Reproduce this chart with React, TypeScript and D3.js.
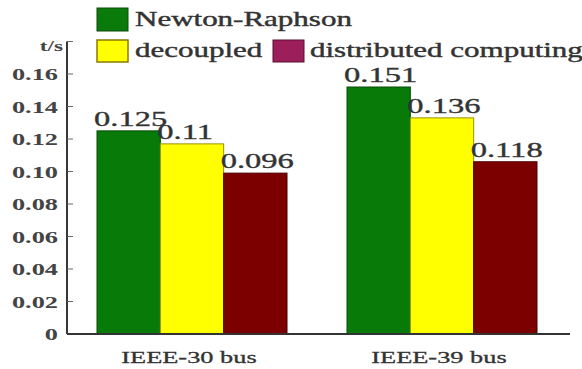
import React, { useLayoutEffect } from "react";
import * as d3 from "d3";

const categories = ["IEEE-30 bus", "IEEE-39 bus"];
const seriesNames = ["Newton-Raphson", "decoupled", "distributed computing"];
const newtonRaphson = [0.125, 0.152];
const decoupled = [0.117, 0.133];
const distributed = [0.099, 0.106];
const newtonLabels = ["0.125", "0.151"];
const decoupledLabels = ["0.11", "0.136"];
const distributedLabels = ["0.096", "0.118"];
const yTicks = [0, 0.02, 0.04, 0.06, 0.08, 0.1, 0.12, 0.14, 0.16];
const yTickLabels = ["0", "0.02", "0.04", "0.06", "0.08", "0.10", "0.12", "0.14", "0.16"];
const yUnit = "t/s";

const barColors = ["#077a07", "#ffff00", "#7c0000"];
const barStrokes = ["#0a4a0a", "#9a9000", "#4a0000"];
const legendColors = ["#0a7a0a", "#ffff00", "#9c1f5c"];
const legendStrokes = ["#0a4a0a", "#8a7a00", "#5a1030"];

const W = 582;
const H = 369;
const SX = 1.55;
const FONT = "'Liberation Serif', 'Times New Roman', serif";

function SText({ x, y, size, anchor = "start", weight = "normal", fill = "#2a2a2a", thick = 0, children }: any) {
  return (
    <g transform={`translate(${x},${y}) scale(${SX},1)`}>
      <text
        textAnchor={anchor}
        fontFamily={FONT}
        fontSize={size}
        fontWeight={weight}
        fill={fill}
        stroke={thick ? fill : "none"}
        strokeWidth={thick}
      >
        {children}
      </text>
    </g>
  );
}

export default function App() {
  useLayoutEffect(() => {
    document.body.style.margin = "0";
  }, []);

  const series = [newtonRaphson, decoupled, distributed];
  const labels = [newtonLabels, decoupledLabels, distributedLabels];

  const y = d3.scaleLinear().domain([0, 0.16]).range([334, 74]);
  const x0 = d3.scaleBand<string>().domain(categories).range([97, 537]).paddingInner(0.24).paddingOuter(0);
  const x1 = d3.scaleBand<string>().domain(seriesNames).range([0, x0.bandwidth()]).padding(0);

  const axisX = 67;
  const axisTop = y(0.18);
  const base = y(0);

  return (
    <svg width={W} height={H} style={{ display: "block" }}>
      <rect width={W} height={H} fill="#ffffff" />
      {/* bars */}
      {categories.map((c, ci) =>
        seriesNames.map((s, si) => {
          const v = series[si][ci];
          const bx = (x0(c) as number) + (x1(s) as number);
          return (
            <rect
              key={c + s}
              x={bx}
              y={y(v)}
              width={x1.bandwidth()}
              height={base - y(v)}
              fill={barColors[si]}
              stroke={barStrokes[si]}
              strokeWidth={1}
            />
          );
        })
      )}
      {/* value labels */}
      {categories.map((c, ci) =>
        seriesNames.map((s, si) => {
          const v = series[si][ci];
          const bx = (x0(c) as number) + (x1(s) as number);
          return (
            <SText key={"l" + c + s} x={bx - 3} y={y(v) - 5} size={21} fill="#333" thick={0.35}>
              {labels[si][ci]}
            </SText>
          );
        })
      )}
      {/* axes */}
      <line x1={axisX} x2={axisX} y1={axisTop} y2={base} stroke="#222" strokeWidth={1.8} />
      <line x1={axisX} x2={570} y1={base} y2={base} stroke="#333" strokeWidth={1.8} />
      {yTicks.map((t, i) => (
        <g key={"t" + i}>
          {t > 0 && <line x1={axisX} x2={axisX + 6} y1={y(t)} y2={y(t)} stroke="#666" strokeWidth={1} />}
          <SText x={58} y={y(t) + 6} size={17} anchor="end" weight="bold" fill="#444">
            {yTickLabels[i]}
          </SText>
        </g>
      ))}
      <line x1={axisX} x2={axisX + 6} y1={axisTop} y2={axisTop} stroke="#666" strokeWidth={1} />
      <SText x={63} y={51} size={15} anchor="end" weight="bold" fill="#444">
        {yUnit}
      </SText>
      {/* category labels */}
      {categories.map((c) => (
        <SText key={"c" + c} x={(x0(c) as number) + x0.bandwidth() / 2 - 3} y={363} size={17} anchor="middle" fill="#333" thick={0.3}>
          {c}
        </SText>
      ))}
      {/* legend */}
      <rect x={97} y={8} width={31} height={23} fill={legendColors[0]} stroke={legendStrokes[0]} strokeWidth={1} />
      <SText x={135} y={26} size={20} fill="#333" thick={0.4}>{seriesNames[0]}</SText>
      <rect x={97} y={40} width={31} height={22} fill={legendColors[1]} stroke={legendStrokes[1]} strokeWidth={1.5} />
      <SText x={135} y={57} size={20} fill="#333" thick={0.4}>{seriesNames[1]}</SText>
      <rect x={273} y={40} width={31} height={22} fill={legendColors[2]} stroke={legendStrokes[2]} strokeWidth={1} />
      <SText x={310} y={57} size={20} fill="#333" thick={0.4}>{seriesNames[2]}</SText>
    </svg>
  );
}
